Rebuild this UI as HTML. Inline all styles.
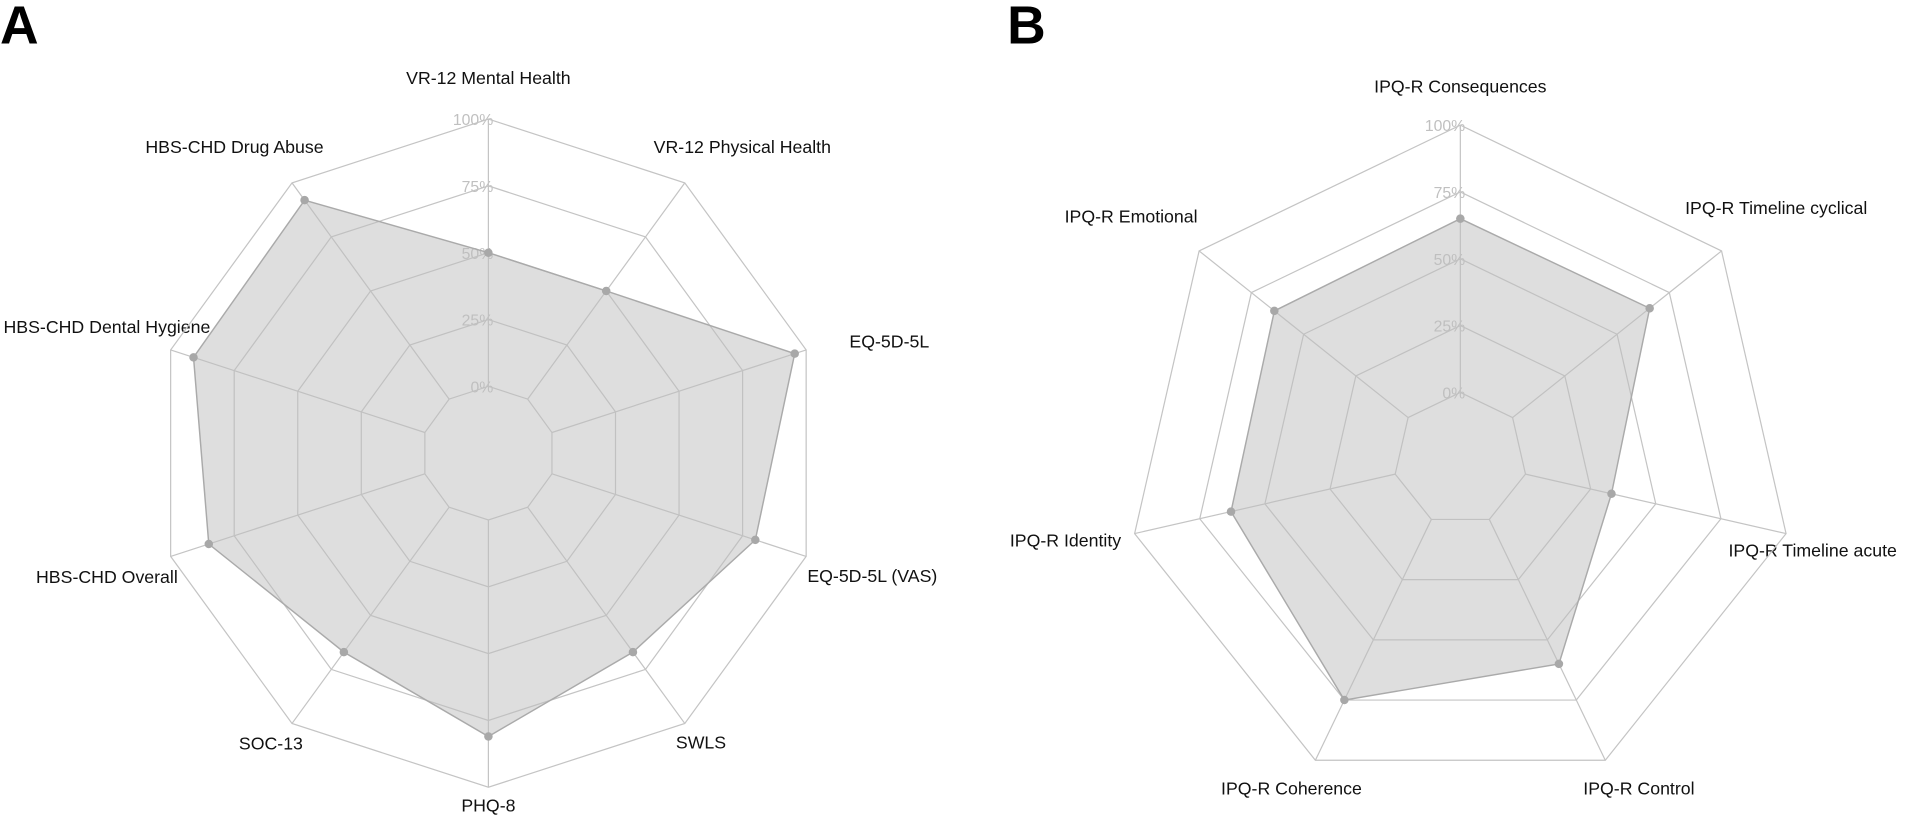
<!DOCTYPE html>
<html><head><meta charset="utf-8">
<style>
html,body{margin:0;padding:0;background:#fff;}
svg{display:block;font-family:"Liberation Sans",Arial,sans-serif;}
</style></head>
<body>
<svg id="chart" width="1905" height="818" viewBox="0 0 1568 673.3" preserveAspectRatio="none" xmlns="http://www.w3.org/2000/svg">
<text x="0" y="36" font-size="44" font-weight="bold">A</text>
<text x="829" y="36" font-size="44" font-weight="bold">B</text>
</svg>
<script>
const categoriesA = ["VR-12 Mental Health","VR-12 Physical Health","EQ-5D-5L","EQ-5D-5L (VAS)","SWLS","PHQ-8","SOC-13","HBS-CHD Overall","HBS-CHD Dental Hygiene","HBS-CHD Drug Abuse"];
const valuesA = [0.50,0.50,0.955,0.80,0.67,0.81,0.67,0.85,0.91,0.92];
const categoriesB = ["IPQ-R Consequences","IPQ-R Timeline cyclical","IPQ-R Timeline acute","IPQ-R Control","IPQ-R Coherence","IPQ-R Identity","IPQ-R Emotional"];
const valuesB = [0.65,0.656,0.33,0.60,0.75,0.63,0.64];
const tickLabels = ["0%","25%","50%","75%","100%"];
const tickValues = [0,0.25,0.5,0.75,1];

const NS="http://www.w3.org/2000/svg";
const svg=document.getElementById('chart');
function mk(tag,attrs){const e=document.createElementNS(NS,tag);for(const k in attrs)e.setAttribute(k,attrs[k]);svg.appendChild(e);return e;}

const labelPosA=[[402,69],[611,126],[732,286],[718,479],[577,616],[402,668],[223,617],[88,480],[88,274],[193,126]];
const labelPosB=[[1202,76],[1462,176],[1492,458],[1349,654],[1063,654],[877,450],[931,183]];

function radar(cx,cy,cats,vals,labelPos,key){
  const n=cats.length, r0=55, R=220;
  const rad=v=>r0+R*v;
  const pt=(i,v)=>{const a=2*Math.PI*i/n;return [cx+rad(v)*Math.sin(a),cy-rad(v)*Math.cos(a)];};
  cats.forEach((c,i)=>{
    const tx=mk('text',{x:labelPos[i][0],y:labelPos[i][1],'text-anchor':'middle','font-size':14.6,fill:'#111'});
    tx.textContent=c;
    
    
  });
  tickValues.forEach((t,j)=>{
    const tx=mk('text',{x:cx+4,y:cy-rad(t)+5,'text-anchor':'end','font-size':13,fill:'#c0c0c0'});
    tx.textContent=tickLabels[j];
    
    
  });
  tickValues.forEach((t,j)=>{
    const p=cats.map((c,i)=>pt(i,t).join(',')).join(' ');
    const g=mk('polygon',{points:p,fill:'none',stroke:'#c4c4c4','stroke-width':1});
    
    
  });
  cats.forEach((c,i)=>{
    const a=pt(i,0),b=pt(i,1);
    const l=mk('line',{x1:a[0],y1:a[1],x2:b[0],y2:b[1],stroke:'#c4c4c4','stroke-width':1});
    
    
  });
  const poly=mk('polygon',{points:vals.map((v,i)=>pt(i,v).join(',')).join(' '),fill:'rgba(190,190,190,0.5)',stroke:'#aaa','stroke-width':1.2});
  
  
  vals.forEach((v,i)=>{
    const p=pt(i,v);
    const c=mk('circle',{cx:p[0],cy:p[1],r:3.5,fill:'#a8a8a8'});
    
    
  });
}
radar(402,373,categoriesA,valuesA,labelPosA,'chart-a');
radar(1202,378,categoriesB,valuesB,labelPosB,'chart-b');
</script>
</body></html>
